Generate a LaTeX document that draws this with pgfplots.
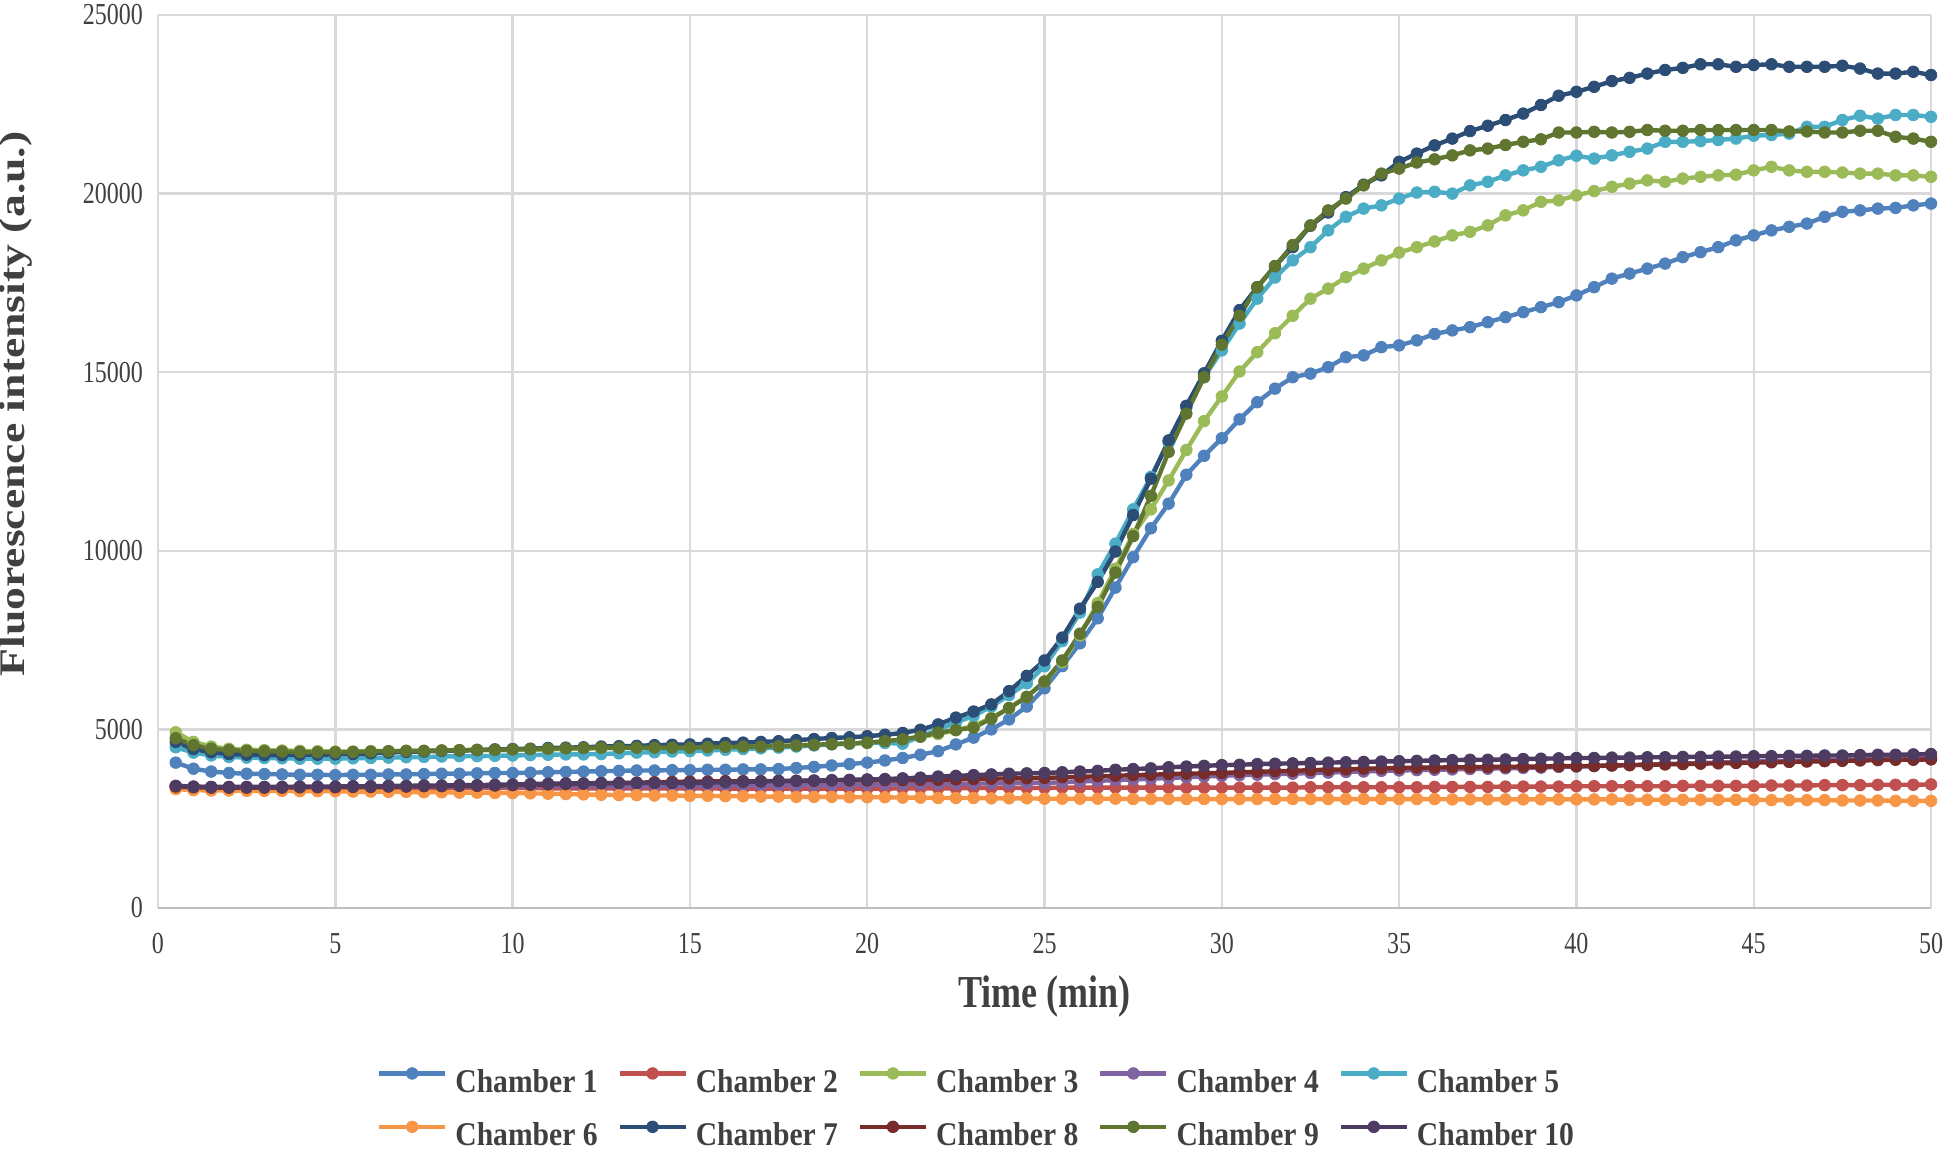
\documentclass[border=0pt]{standalone}
\usepackage{fontspec}
\setmainfont{Liberation Serif}
\usepackage{graphicx}
\usepackage{pgfplots}
\usepackage{pgfplotstable}
\pgfplotsset{compat=1.18}
\definecolor{c1}{HTML}{4F81BD}
\definecolor{c2}{HTML}{C0504D}
\definecolor{c3}{HTML}{9BBB59}
\definecolor{c4}{HTML}{8064A2}
\definecolor{c5}{HTML}{4BACC6}
\definecolor{c6}{HTML}{F79646}
\definecolor{c7}{HTML}{2C4D75}
\definecolor{c8}{HTML}{772C2A}
\definecolor{c9}{HTML}{5F7530}
\definecolor{c10}{HTML}{4D3B62}
\definecolor{gridgray}{HTML}{D9D9D9}
\definecolor{axgray}{HTML}{BFBFBF}
\definecolor{txt}{HTML}{404040}
\newcommand{\vs}[1]{\scalebox{1}[1.27]{#1}}
\newcommand{\lgd}[1]{\scalebox{1}[1.12]{\makebox[77pt][l]{#1}}}

\pgfplotstableread{
t c1 c2 c3 c4 c5 c6 c7 c8 c9 c10
0.5 4070 3400 4920 3410 4500 3330 4650 3400 4750 3420
1.0 3900 3390 4650 3390 4350 3300 4450 3380 4560 3400
1.5 3820 3380 4520 3380 4270 3290 4360 3370 4460 3390
2.0 3780 3380 4460 3380 4230 3290 4310 3370 4420 3390
2.5 3760 3380 4430 3380 4210 3280 4290 3370 4400 3390
3.0 3750 3370 4420 3380 4200 3280 4280 3370 4390 3390
3.5 3740 3370 4410 3380 4190 3280 4280 3370 4380 3390
4.0 3730 3370 4400 3380 4180 3270 4290 3380 4370 3400
4.5 3730 3370 4390 3380 4180 3270 4290 3380 4360 3400
5.0 3720 3370 4380 3380 4180 3270 4300 3380 4360 3400
5.5 3730 3370 4380 3380 4190 3260 4310 3390 4370 3410
6.0 3730 3360 4390 3380 4200 3260 4330 3390 4380 3410
6.5 3740 3360 4390 3390 4210 3250 4350 3400 4390 3420
7.0 3740 3360 4400 3390 4220 3250 4370 3400 4400 3420
7.5 3750 3360 4400 3390 4230 3240 4380 3410 4400 3430
8.0 3760 3360 4410 3390 4240 3240 4400 3410 4410 3430
8.5 3760 3360 4410 3400 4250 3230 4410 3420 4420 3440
9.0 3770 3360 4420 3400 4250 3230 4420 3420 4430 3440
9.5 3780 3360 4420 3400 4260 3220 4440 3430 4430 3450
10.0 3780 3360 4420 3400 4270 3220 4450 3440 4440 3460
10.5 3790 3360 4430 3400 4280 3210 4460 3450 4450 3470
11.0 3800 3350 4440 3410 4290 3200 4480 3460 4460 3480
11.5 3810 3350 4450 3410 4300 3190 4490 3470 4470 3490
12.0 3820 3350 4460 3410 4300 3180 4500 3480 4480 3490
12.5 3830 3350 4470 3410 4310 3170 4520 3490 4490 3500
13.0 3840 3350 4480 3410 4330 3160 4530 3500 4490 3500
13.5 3850 3350 4480 3420 4350 3160 4540 3510 4490 3500
14.0 3850 3350 4490 3420 4360 3150 4560 3520 4490 3500
14.5 3860 3350 4490 3420 4380 3150 4570 3530 4490 3500
15.0 3860 3350 4500 3420 4390 3140 4580 3540 4490 3500
15.5 3870 3350 4510 3420 4410 3140 4600 3540 4500 3510
16.0 3870 3340 4510 3430 4430 3130 4620 3550 4510 3520
16.5 3880 3340 4520 3430 4450 3130 4630 3550 4520 3530
17.0 3880 3340 4530 3430 4470 3120 4650 3550 4520 3540
17.5 3890 3340 4540 3430 4490 3120 4670 3560 4530 3550
18.0 3920 3340 4550 3440 4520 3110 4700 3560 4550 3560
18.5 3950 3340 4570 3440 4550 3110 4730 3560 4570 3570
19.0 3990 3340 4590 3440 4580 3110 4760 3570 4590 3580
19.5 4030 3340 4600 3450 4600 3100 4780 3570 4610 3590
20.0 4070 3340 4620 3450 4630 3100 4810 3570 4630 3600
20.5 4130 3340 4660 3460 4620 3100 4850 3580 4670 3610
21.0 4200 3350 4720 3460 4600 3090 4900 3580 4720 3630
21.5 4290 3350 4790 3470 4800 3090 4990 3590 4800 3650
22.0 4390 3350 4870 3470 5000 3080 5140 3590 4910 3680
22.5 4580 3350 4980 3480 5190 3080 5330 3600 4980 3700
23.0 4770 3360 5100 3480 5380 3080 5500 3610 5050 3720
23.5 5000 3360 5320 3490 5640 3070 5700 3620 5300 3740
24.0 5280 3360 5590 3490 5960 3070 6070 3630 5600 3760
24.5 5640 3360 5910 3500 6290 3070 6500 3630 5910 3770
25.0 6150 3360 6340 3500 6770 3060 6930 3640 6340 3780
25.5 6770 3370 6880 3520 7470 3060 7570 3660 6930 3800
26.0 7410 3370 7630 3540 8270 3060 8380 3670 7680 3820
26.5 8110 3370 8540 3560 9340 3060 9130 3690 8430 3840
27.0 8970 3370 9500 3580 10200 3060 9980 3700 9390 3870
27.5 9820 3370 10470 3600 11160 3050 11000 3720 10410 3890
28.0 10630 3370 11160 3620 12070 3050 12020 3730 11540 3910
28.5 11320 3370 11970 3640 13040 3050 13090 3750 12770 3940
29.0 12130 3370 12820 3660 14000 3050 14060 3760 13840 3960
29.5 12660 3370 13630 3680 14860 3050 14970 3770 14860 3980
30.0 13150 3370 14320 3700 15610 3050 15880 3780 15770 4000
30.5 13680 3370 15020 3720 16360 3050 16740 3800 16580 4010
31.0 14160 3370 15560 3730 17060 3050 17380 3810 17380 4030
31.5 14540 3370 16090 3750 17650 3050 17970 3830 17970 4040
32.0 14860 3370 16580 3760 18130 3050 18500 3840 18560 4050
32.5 14960 3380 17060 3780 18500 3050 19100 3860 19110 4060
33.0 15140 3380 17340 3790 18970 3050 19470 3870 19530 4070
33.5 15420 3380 17660 3810 19350 3050 19900 3880 19860 4080
34.0 15470 3380 17900 3820 19580 3050 20250 3900 20230 4090
34.5 15700 3380 18130 3840 19670 3050 20510 3910 20560 4100
35.0 15750 3380 18350 3850 19860 3050 20890 3920 20700 4110
35.5 15890 3380 18500 3860 20030 3050 21120 3930 20870 4120
36.0 16070 3390 18660 3870 20050 3050 21350 3930 20960 4130
36.5 16170 3390 18830 3880 20000 3040 21540 3940 21070 4140
37.0 16260 3390 18930 3890 20230 3040 21750 3940 21210 4150
37.5 16400 3390 19110 3900 20330 3040 21900 3950 21260 4150
38.0 16540 3400 19390 3910 20510 3040 22060 3950 21360 4160
38.5 16680 3400 19530 3920 20650 3040 22240 3960 21450 4170
39.0 16820 3400 19770 3930 20750 3040 22480 3960 21520 4180
39.5 16960 3400 19810 3950 20930 3040 22740 3970 21710 4190
40.0 17150 3410 19950 3960 21060 3040 22850 3970 21710 4200
40.5 17380 3410 20070 3970 20980 3040 22990 3980 21730 4200
41.0 17620 3410 20190 3990 21070 3040 23150 3990 21710 4210
41.5 17760 3410 20280 4000 21170 3030 23240 4000 21730 4210
42.0 17900 3410 20370 4010 21260 3030 23360 4010 21780 4220
42.5 18040 3410 20330 4030 21450 3030 23460 4020 21760 4220
43.0 18220 3420 20420 4040 21450 3030 23520 4030 21760 4230
43.5 18360 3420 20470 4060 21470 3030 23620 4040 21780 4230
44.0 18500 3420 20510 4070 21500 3030 23620 4050 21780 4240
44.5 18690 3420 20530 4090 21540 3030 23550 4060 21780 4240
45.0 18830 3420 20650 4100 21620 3030 23600 4070 21780 4250
45.5 18970 3430 20750 4110 21640 3020 23620 4080 21780 4250
46.0 19070 3430 20650 4120 21680 3020 23550 4090 21740 4260
46.5 19160 3430 20610 4130 21870 3020 23550 4100 21740 4260
47.0 19350 3440 20610 4140 21870 3020 23550 4110 21710 4270
47.5 19490 3440 20590 4150 22060 3010 23580 4120 21710 4270
48.0 19530 3440 20560 4160 22180 3010 23500 4130 21760 4280
48.5 19580 3450 20560 4170 22100 3010 23360 4140 21760 4290
49.0 19600 3450 20510 4180 22200 3000 23360 4150 21590 4290
49.5 19670 3450 20510 4190 22200 3000 23410 4150 21540 4300
50.0 19720 3460 20470 4200 22150 3000 23320 4160 21450 4310
}\data

\pgfplotsset{cs/.style={color=#1, line width=2.2pt, mark=*, mark size=2.9pt,
  mark options={solid, fill=#1, draw=#1, line width=0.4pt}}}

\begin{document}
\begin{tikzpicture}
\begin{axis}[
  scale only axis, width=886.5pt, height=446.5pt,
  xmin=0, xmax=50, ymin=0, ymax=25000,
  xtick={0,5,...,50}, ytick={0,5000,...,25000},
  grid=major, major grid style={draw=gridgray, line width=1.2pt},
  major tick length=0pt,
  axis x line*=bottom, axis y line*=left,
  x axis line style={draw=axgray, line width=1.4pt, -},
  y axis line style={draw=none, -},
  clip=false,
  scaled y ticks=false,
  /pgf/number format/assume math mode=true,
  tick label style={font=\fontsize{12}{14}\selectfont, text=txt},
  xticklabel={\vs{\pgfmathprintnumber{\tick}}},
  yticklabel={\vs{\pgfmathprintnumber[1000 sep={}]{\tick}}},
  xticklabel style={yshift=-9pt},
  yticklabel style={xshift=-4pt},
  every axis x label/.style={at={(axis description cs:0.5,-0.0986)}, anchor=center},
  every axis y label/.style={at={(axis description cs:-0.0801,0.5644)}, rotate=90, anchor=center},
  label style={font=\bfseries\fontsize{18}{20}\selectfont, text=txt},
  xlabel={\vs{Time (min)}},
  ylabel={\scalebox{1.27}[1]{Fluorescence intensity (a.u.)}},
  legend columns=5,
  legend cell align=left,
  legend style={at={(axis description cs:0.1235,-0.2240)}, anchor=west, draw=none, fill=none,
    inner sep=0pt, outer sep=0pt, column sep=4pt, row sep=13pt,
    font=\bfseries\fontsize{14.8}{16}\selectfont, text=txt, nodes={inner sep=0pt}},
  legend image code/.code={\draw[mark repeat=2,mark phase=2] plot coordinates {(0pt,4.3pt) (16.5pt,4.3pt) (33pt,4.3pt)};},
]
\addplot[cs=c1] table[x=t,y=c1]{\data}; \addlegendentry{\lgd{Chamber 1}}
\addplot[cs=c2] table[x=t,y=c2]{\data}; \addlegendentry{\lgd{Chamber 2}}
\addplot[cs=c3] table[x=t,y=c3]{\data}; \addlegendentry{\lgd{Chamber 3}}
\addplot[cs=c4] table[x=t,y=c4]{\data}; \addlegendentry{\lgd{Chamber 4}}
\addplot[cs=c5] table[x=t,y=c5]{\data}; \addlegendentry{\lgd{Chamber 5}}
\addplot[cs=c6] table[x=t,y=c6]{\data}; \addlegendentry{\lgd{Chamber 6}}
\addplot[cs=c7] table[x=t,y=c7]{\data}; \addlegendentry{\lgd{Chamber 7}}
\addplot[cs=c8] table[x=t,y=c8]{\data}; \addlegendentry{\lgd{Chamber 8}}
\addplot[cs=c9] table[x=t,y=c9]{\data}; \addlegendentry{\lgd{Chamber 9}}
\addplot[cs=c10] table[x=t,y=c10]{\data}; \addlegendentry{\lgd{Chamber 10}}
\end{axis}
\pgfresetboundingbox
\path[use as bounding box] ([shift={(-79pt,-121.5pt)}]current axis.south west) rectangle ([shift={(9.5pt,7.5pt)}]current axis.north east);
\end{tikzpicture}
\end{document}
